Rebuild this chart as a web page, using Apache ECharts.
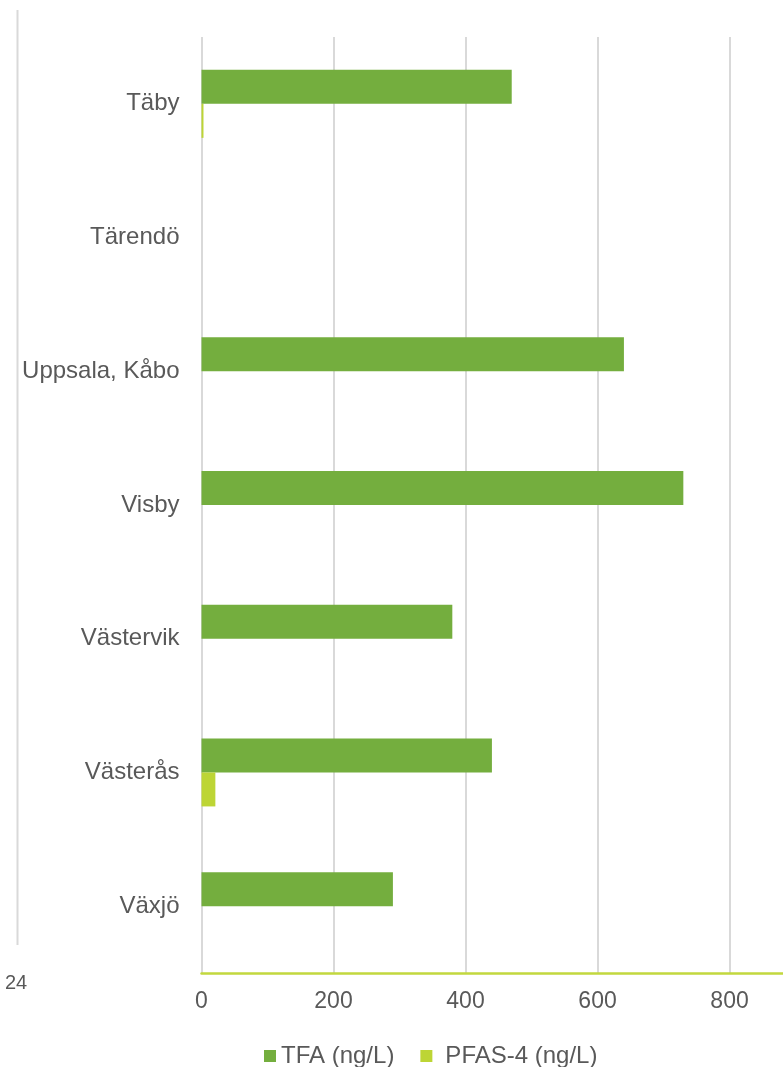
<!DOCTYPE html>
<html>
<head>
<meta charset="utf-8">
<script src="https://cdn.jsdelivr.net/npm/echarts@6/dist/echarts.min.js"></script>
<style>
html,body{margin:0;padding:0;background:#fff;}
#chart{width:783px;height:1067px;}
</style>
</head>
<body>
<div id="chart"></div>
<script>
var categories = ['Täby', 'Tärendö', 'Uppsala, Kåbo', 'Visby', 'Västervik', 'Västerås', 'Växjö'];
var tfaValues = [470, null, 640, 730, 380, 440, 290];
var pfasValues = [3, null, null, null, null, 21, null];
var xTicks = [0, 200, 400, 600, 800];
var seriesNames = ['TFA (ng/L)', 'PFAS-4 (ng/L)'];

var chart = echarts.init(document.getElementById('chart'), null, {renderer: 'canvas'});
var font = 'Liberation Sans, Arial, sans-serif';
chart.setOption({
  animation: false,
  backgroundColor: '#ffffff',
  textStyle: {fontFamily: font},
  grid: {left: 201.5, right: 0, top: 37, bottom: 94, containLabel: false},
  xAxis: {
    type: 'value', min: 0, max: 881, interval: 200,
    axisLine: {show: true, lineStyle: {color: '#c2d83e', width: 2.5}},
    axisTick: {show: false},
    splitLine: {show: true, showMaxLine: false, lineStyle: {color: '#d9d9d9', width: 2}},
    axisLabel: {
      color: '#595959', fontSize: 23, fontFamily: font, margin: 17,
      showMaxLabel: false,
      formatter: function (v) { return xTicks.indexOf(v) >= 0 ? String(v) : ''; }
    }
  },
  yAxis: {
    type: 'category', data: categories, inverse: true,
    axisLine: {show: false}, axisTick: {show: false}, splitLine: {show: false},
    axisLabel: {color: '#595959', fontSize: 24, fontFamily: font, margin: 22}
  },
  legend: {
    data: seriesNames, left: 259, top: 1039, icon: 'rect', itemWidth: 12, itemHeight: 12,
    itemGap: 26,
    formatter: function (name) { return name === seriesNames[1] ? '{s|}' + name : name; },
    textStyle: {color: '#595959', fontSize: 24, fontFamily: font,
      rich: {s: {width: 8}}}
  },
  series: [
    {name: seriesNames[0], type: 'bar', data: tfaValues, barWidth: 34, barGap: '0%',
     itemStyle: {color: '#74ae3e'}},
    {name: seriesNames[1], type: 'bar', data: pfasValues, barWidth: 34, barGap: '0%',
     itemStyle: {color: '#bdd535'}}
  ],
  graphic: [
    {type: 'line', shape: {x1: 17.5, y1: 10, x2: 17.5, y2: 945}, style: {stroke: '#d9d9d9', lineWidth: 2}},
    {type: 'text', left: 5, top: 973, style: {text: '24', fill: '#595959', fontSize: 20, fontFamily: font}}
  ]
});
</script>
</body>
</html>
